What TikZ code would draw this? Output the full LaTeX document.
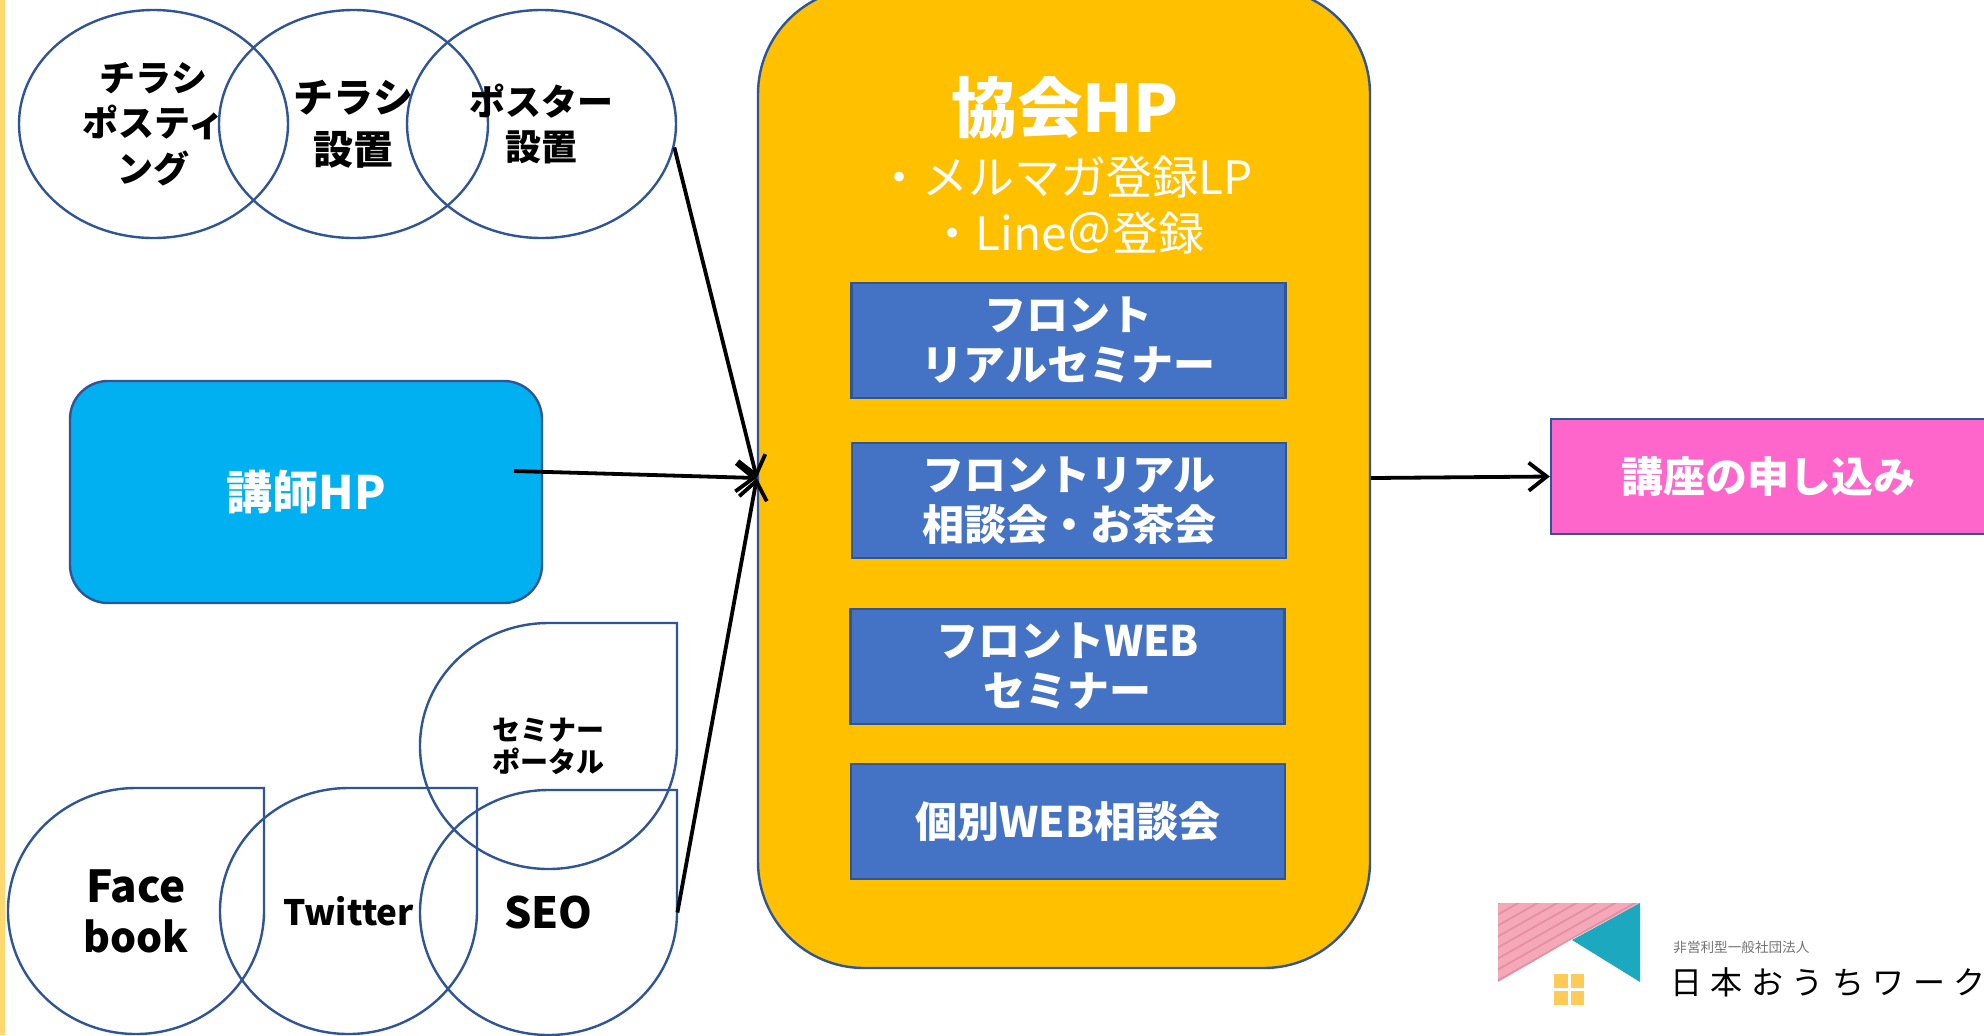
\documentclass[tikz,border=0pt]{standalone}
\usepackage{fontspec}
\setmainfont{Noto Sans CJK JP}
\usetikzlibrary{shapes.geometric,arrows.meta}
\definecolor{outl}{HTML}{2F5597}
\definecolor{mainfill}{HTML}{FFC000}
\definecolor{hpfill}{HTML}{00B0F0}
\definecolor{innerfill}{HTML}{4472C4}
\definecolor{pinkfill}{HTML}{FF66CC}
\definecolor{strip}{HTML}{FFD970}
\definecolor{logopink}{HTML}{F5A9B8}
\definecolor{logostripe}{HTML}{E58FA3}
\definecolor{logoteal}{HTML}{1CA9C0}
\definecolor{logowin}{HTML}{FFCB57}
\newcommand\fs[2]{\fontsize{#1}{#2}\selectfont}
\tikzset{
  ring/.style={draw=outl,line width=1.2pt,ellipse,inner sep=0pt,minimum width=134.5pt,minimum height=114pt,align=center},
  ringa/.style={ring,font=\bfseries\fs{18}{22.7}},
  ringb/.style={ring,font=\bfseries\fs{20}{26}},
  dropline/.style={draw=outl,line width=1.2pt},
  droplabel/.style={rectangle,inner sep=0pt,align=center},
  innerbox/.style={draw=outl,line width=1.2pt,fill=innerfill,text=white,inner sep=0pt,minimum width=217pt,minimum height=57.5pt,align=center,font=\bfseries\fs{21}{25}},
  link/.style={draw=black,line width=1.9pt,-{Straight Barb[length=9pt,width=14pt,line width=1.9pt]}},
}
\newcommand\teardrop[7]{%
  \pgfmathsetmacro\cxx{(#2+#4)/2}\pgfmathsetmacro\cyy{(#3+#5)/2}%
  \pgfmathsetmacro\rxx{(#4-#2)/2}\pgfmathsetmacro\ryy{(#5-#3)/2}%
  \draw[dropline] (\cxx,#3) -- (#4,#3) -- (#4,\cyy) arc[start angle=0,end angle=270,x radius=\rxx,y radius=\ryy];
  \node[droplabel,font=#6,minimum width=\rxx pt,minimum height=\ryy pt] (#1) at (\cxx,\cyy) {#7};
}
\begin{document}
\begin{tikzpicture}[x=0.5pt,y=-0.5pt]
\useasboundingbox (0,0) rectangle (1984,1035);
\clip (0,0) rectangle (1984,1035);
\fill[white] (0,0) rectangle (1984,1035);
\fill[strip] (0,0) rectangle (5,1035);
% top rings
\node[ringa] (c1) at (153.5,124) {チラシ\\ポスティ\\ング};
\node[ringb] (c2) at (353.5,124) {チラシ\\設置};
\node[ringa] (c3) at (541.5,124) {ポスター\\設置};
% teacher
\node[draw=outl,line width=1.2pt,fill=hpfill,rounded corners=19pt,minimum width=236pt,minimum height=111pt,inner sep=0pt,text=white,font=\bfseries\fs{23}{26}] (teacher) at (306,492) {講師HP};
\coordinate (tstart) at (514,471);
% social drops
\teardrop{fb}{8}{788}{264}{1034}{\bfseries\fs{20.5}{25}}{{\fs{22}{25}Face}\\book}
\teardrop{tw}{220}{788}{477}{1034}{\bfseries\fs{17.5}{24}}{Twitter}
\teardrop{seo}{420}{790}{677}{1035}{\bfseries\fs{21.5}{25}}{SEO}
\teardrop{sem}{420}{623}{677}{869}{\bfseries\fs{14}{16}}{セミナー\\ポータル}
% main
\node[draw=outl,line width=1.2pt,fill=mainfill,rounded corners=53pt,minimum width=306pt,minimum height=490pt,inner sep=0pt] (main) at (1064,478) {};
\node[text=white,font=\bfseries\fs{32.8}{36},inner sep=0pt] (title) at (1065,108) {協会HP};
\node[text=white,font=\fs{23}{26},inner sep=0pt] (sub1) at (1065,177) {・メルマガ登録LP};
\node[text=white,font=\fs{23}{26},inner sep=0pt] (sub2) at (1067,233) {・Line＠登録};
\node[innerbox] (b1) at (1068.5,340.5) {フロント\\リアルセミナー};
\node[innerbox] (b2) at (1069,500.5) {フロントリアル\\相談会・お茶会};
\node[innerbox] (b3) at (1067.5,666.5) {フロントWEB\\セミナー};
\node[innerbox] (b4) at (1068,821.5) {個別WEB相談会};
% goal
\node[draw=outl,line width=1.2pt,fill=pinkfill,text=white,minimum width=217.5pt,minimum height=57.5pt,inner sep=0pt,font=\bfseries\fs{21}{25}] (apply) at (1768.5,476.5) {講座の申し込み};
% connectors
\draw[link] (c3.-10) -- (main.west);
\draw[link] (tstart) -- (main.west);
\draw[link] (seo.east) -- (main.west);
\draw[link] (main.east) -- (apply.west);
% logo
\begin{scope}
\clip (1498,903) -- (1640,903) -- (1572,939) -- (1498,982) -- cycle;
\fill[logopink] (1498,903) rectangle (1640,982);
\foreach \d in {-10,1,...,140}
  \draw[logostripe,line width=0.9pt] (1490,{918+\d}) -- (1640,{918+\d-85});
\end{scope}
\fill[logoteal] (1640,903) -- (1640,982) -- (1572,940) -- cycle;
\fill[logowin] (1554,974) rectangle (1567.5,988);
\fill[logowin] (1570.5,974) rectangle (1584,988);
\fill[logowin] (1554,991) rectangle (1567.5,1005);
\fill[logowin] (1570.5,991) rectangle (1584,1005);
\node[anchor=west,inner sep=0pt,text=black!55,font=\fs{6.8}{8}] (org) at (1673,947) {非営利型一般社団法人};
\node[anchor=west,inner sep=0pt,text=black,font=\addfontfeature{LetterSpace=26.5}\fs{16}{18}] (brand) at (1670,982) {日本おうちワーク};
\end{tikzpicture}
\end{document}
